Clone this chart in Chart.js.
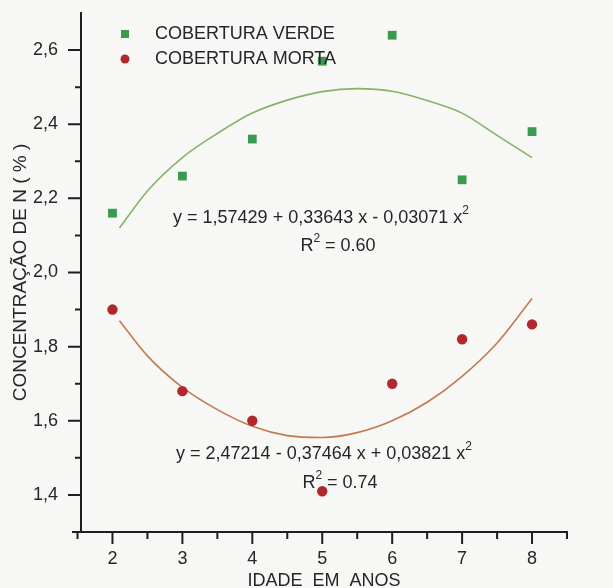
<!DOCTYPE html>
<html>
<head>
<meta charset="utf-8">
<script src="https://cdn.jsdelivr.net/npm/chart.js@4.4.1/dist/chart.umd.min.js"></script>
<style>
  html, body { margin: 0; padding: 0; background: #f7f7f5; }
  #wrap { width: 613px; height: 588px; }
</style>
</head>
<body>
<div id="wrap"><canvas id="myChart" width="613" height="588"></canvas></div>
<script>
const idade = [2, 3, 4, 5, 6, 7, 8];
const coberturaVerde = [2.16, 2.26, 2.36, 2.57, 2.64, 2.25, 2.38];
const coberturaMorta = [1.90, 1.68, 1.60, 1.41, 1.70, 1.82, 1.86];

// fitted curves, values
const curvaX = [2.1, 2.5, 3, 3.5, 4, 4.5, 5, 5.5, 6, 6.5, 7, 7.5, 8];
const curvaVerde = [2.12, 2.22, 2.31, 2.375, 2.43, 2.465, 2.488, 2.496, 2.489, 2.464, 2.43, 2.37, 2.31];
const curvaMorta = [1.87, 1.775, 1.69, 1.63, 1.585, 1.56, 1.555, 1.568, 1.60, 1.65, 1.72, 1.81, 1.93];

const xTicks = [2, 3, 4, 5, 6, 7, 8];
const xMinor = [1.5, 2.5, 3.5, 4.5, 5.5, 6.5, 7.5, 8.5];
const yTicks = [1.4, 1.6, 1.8, 2.0, 2.2, 2.4, 2.6];
const yMinor = [1.5, 1.7, 1.9, 2.1, 2.3, 2.5];

const TXT = '#262626';
const AXIS = '#1e1e1e';
const FONT = '"Liberation Sans", Arial, sans-serif';

const toXY = (xs, ys) => xs.map((x, i) => ({ x: x, y: ys[i] }));

// draws text with superscripts, centered on cx
function drawRich(ctx, segs, cx, cy) {
  const main = '18px ' + FONT;
  const sup = '12px ' + FONT;
  let w = 0;
  segs.forEach(s => { ctx.font = s[1] ? sup : main; w += ctx.measureText(s[0]).width; });
  let x = cx - w / 2;
  ctx.textAlign = 'left';
  ctx.textBaseline = 'middle';
  segs.forEach(s => {
    ctx.font = s[1] ? sup : main;
    ctx.fillText(s[0], x, s[1] ? cy - 7 : cy);
    x += ctx.measureText(s[0]).width;
  });
}

const extras = {
  id: 'extras',
  afterDraw(chart) {
    const ctx = chart.ctx;
    const xs = chart.scales.x, ys = chart.scales.y;
    const { left, bottom } = chart.chartArea;
    ctx.save();
    ctx.strokeStyle = AXIS;
    ctx.lineWidth = 2;
    ctx.beginPath();
    // x axis runs a little past the y axis
    ctx.moveTo(left - 9, bottom);
    ctx.lineTo(left, bottom);
    yTicks.forEach(v => { const p = ys.getPixelForValue(v); ctx.moveTo(left - 13, p); ctx.lineTo(left, p); });
    yMinor.forEach(v => { const p = ys.getPixelForValue(v); ctx.moveTo(left - 6, p); ctx.lineTo(left, p); });
    xTicks.forEach(v => { const p = xs.getPixelForValue(v); ctx.moveTo(p, bottom); ctx.lineTo(p, bottom + 12); });
    xMinor.forEach(v => { const p = xs.getPixelForValue(v); ctx.moveTo(p, bottom); ctx.lineTo(p, bottom + 7); });
    ctx.stroke();

    // legend inside the plot
    ctx.fillStyle = '#3a9a50';
    ctx.fillRect(121, 30, 8, 8);
    ctx.fillStyle = '#b0282e';
    ctx.beginPath();
    ctx.arc(125, 59, 4.5, 0, Math.PI * 2);
    ctx.fill();
    ctx.fillStyle = TXT;
    ctx.font = '18px ' + FONT;
    ctx.textAlign = 'left';
    ctx.textBaseline = 'middle';
    ctx.fillText('COBERTURA VERDE', 155, 34);
    ctx.fillText('COBERTURA MORTA', 155, 59);

    // regression equations
    drawRich(ctx, [['y = 1,57429 + 0,33643 x - 0,03071 x'], ['2', true]], 321, 218);
    drawRich(ctx, [['R'], ['2', true], [' = 0.60']], 338, 246);
    drawRich(ctx, [['y = 2,47214 - 0,37464 x + 0,03821 x'], ['2', true]], 324, 454);
    drawRich(ctx, [['R'], ['2', true], [' = 0.74']], 340, 483);
    ctx.restore();
  }
};

const myChart = new Chart(document.getElementById('myChart').getContext('2d'), {
  type: 'scatter',
  data: {
    datasets: [
      {
        label: 'COBERTURA VERDE',
        data: toXY(idade, coberturaVerde),
        pointStyle: 'rect',
        pointRadius: 6.2,
        backgroundColor: '#3a9a50',
        borderWidth: 0,
        order: 0,
      },
      {
        label: 'COBERTURA MORTA',
        data: toXY(idade, coberturaMorta),
        pointStyle: 'circle',
        pointRadius: 5.2,
        backgroundColor: '#b0282e',
        borderWidth: 0,
        order: 0,
      },
      {
        label: 'ajuste verde',
        data: toXY(curvaX, curvaVerde),
        showLine: true,
        cubicInterpolationMode: 'monotone',
        pointRadius: 0,
        borderColor: '#84b466',
        borderWidth: 1.6,
        order: 1,
      },
      {
        label: 'ajuste morta',
        data: toXY(curvaX, curvaMorta),
        showLine: true,
        cubicInterpolationMode: 'monotone',
        pointRadius: 0,
        borderColor: '#c27a4e',
        borderWidth: 1.6,
        order: 1,
      },
    ],
  },
  options: {
    responsive: false,
    animation: false,
    devicePixelRatio: 1,
    layout: {
      padding: { top: 13, right: 46, left: 0, bottom: 0 },
    },
    scales: {
      x: {
        type: 'linear',
        min: 1.55,
        max: 8.5,
        afterBuildTicks: (s) => { s.ticks = xTicks.map(v => ({ value: v })); },
        afterFit: (s) => { s.height = 56; s.paddingLeft = 0; s.paddingRight = 0; },
        grid: { display: false },
        border: { display: true, color: AXIS, width: 2 },
        ticks: {
          autoSkip: false,
          maxRotation: 0,
          padding: 8,
          color: TXT,
          font: { family: FONT, size: 18 },
          callback: (v) => String(v),
        },
        title: {
          display: true,
          text: 'IDADE  EM  ANOS',
          color: TXT,
          font: { family: FONT, size: 18, lineHeight: 1 },
          padding: { top: 0, bottom: -2 },
        },
      },
      y: {
        min: 1.3,
        max: 2.7,
        afterBuildTicks: (s) => { s.ticks = yTicks.map(v => ({ value: v })); },
        afterFit: (s) => { s.width = 81; s.paddingTop = 0; s.paddingBottom = 0; },
        grid: { display: false },
        border: { display: true, color: AXIS, width: 2 },
        ticks: {
          padding: 15,
          color: TXT,
          font: { family: FONT, size: 18 },
          callback: (v) => v.toFixed(1).replace('.', ','),
        },
        title: {
          display: true,
          text: 'CONCENTRAÇÃO DE N ( % )',
          color: TXT,
          font: { family: FONT, size: 19, lineHeight: 1.2 },
          padding: { top: 9, bottom: 0 },
        },
      },
    },
    plugins: {
      legend: { display: false },
      tooltip: { enabled: false },
    },
  },
  plugins: [extras],
});
</script>
</body>
</html>
